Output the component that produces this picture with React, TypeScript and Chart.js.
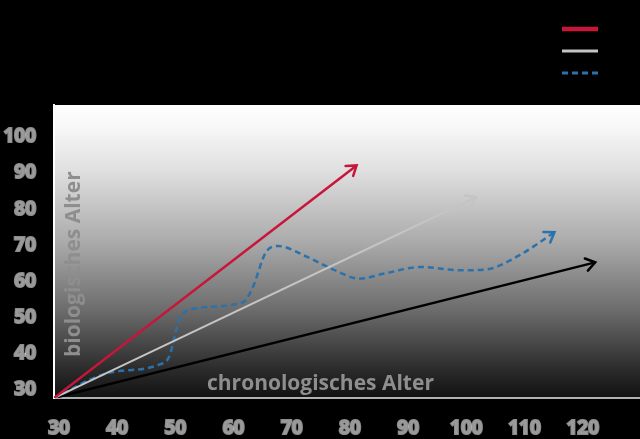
import React, { useEffect, useRef } from 'react';
import { Chart, registerables } from 'chart.js';

Chart.register(...registerables);

// tick labels
const xTicks = [30, 40, 50, 60, 70, 80, 90, 100, 110, 120];
const yTicks = [30, 40, 50, 60, 70, 80, 90, 100];

const xTitle = 'chronologisches Alter';
const yTitle = 'biologisches Alter';

const seriesLabels = ['beschleunigte Alterung', 'durchschnittliche Alterung', 'individueller Verlauf', 'verlangsamte Alterung'];

// straight lines: start and end (x = chronologisches, y = biologisches Alter)
const redX = [30, 82];
const redY = [30, 94.3];
const grayX = [30, 102.5];
const grayY = [30, 85.5];
const blackX = [30, 123];
const blackY = [30, 67.5];

// dashed individual curve
const blueX = [30, 39, 48, 49.8, 51.5, 53.5, 62.5, 64, 66.5, 68.5, 73.5, 78, 82.5, 87, 93, 100, 104.5, 110, 116];
const blueY = [30, 36.8, 39.2, 41.5, 51.5, 54.5, 56.5, 60, 70.5, 72, 69, 65.5, 63, 64.5, 66.2, 65.3, 65.6, 69.5, 75.8];

const colors = {
    red: '#c8163a',
    gray: '#c4c4c4',
    blue: '#2a72ad',
    black: '#000000',
    tick: '#9a9a9a',
    title: '#8e8e8e',
};

const zip = (xs: number[], ys: number[]) => xs.map((x, i) => ({ x, y: ys[i] }));

const backgroundPlugin = {
    id: 'bgGradient',
    beforeDraw(chart: any) {
        const { ctx, chartArea, width, height } = chart;
        ctx.save();
        ctx.fillStyle = '#000';
        ctx.fillRect(0, 0, width, height);
        const g = ctx.createLinearGradient(0, chartArea.top, 0, chartArea.bottom);
        g.addColorStop(0, '#ffffff');
        g.addColorStop(0.07, '#f8f8f8');
        g.addColorStop(0.22, '#e0e0e0');
        g.addColorStop(0.47, '#aaaaaa');
        g.addColorStop(0.7, '#6c6c6c');
        g.addColorStop(0.9, '#2c2c2c');
        g.addColorStop(1, '#111111');
        ctx.fillStyle = g;
        ctx.fillRect(chartArea.left, chartArea.top, chartArea.right - chartArea.left, chartArea.bottom - chartArea.top);
        ctx.restore();
    },
};

const titlesPlugin = {
    id: 'innerTitles',
    beforeDatasetsDraw(chart: any) {
        const { ctx, chartArea } = chart;
        ctx.save();
        ctx.fillStyle = colors.title;
        ctx.font = 'bold 21px "Open Sans"';
        ctx.textBaseline = 'alphabetic';
        ctx.textAlign = 'left';
        ctx.fillText(xTitle, 207, chartArea.bottom - 8);
        ctx.translate(chartArea.left + 26, 357);
        ctx.rotate(-Math.PI / 2);
        ctx.fillText(yTitle, 0, 0);
        ctx.restore();
    },
};

const arrowPlugin = {
    id: 'arrowHeads',
    afterDatasetsDraw(chart: any) {
        const { ctx } = chart;
        chart.data.datasets.forEach((ds: any, i: number) => {
            const pts = chart.getDatasetMeta(i).data;
            if (pts.length < 2) return;
            const a = pts[pts.length - 2];
            const b = pts[pts.length - 1];
            const ang = Math.atan2(b.y - a.y, b.x - a.x);
            const len = 11;
            ctx.save();
            ctx.strokeStyle = ds.borderColor;
            ctx.lineWidth = 2.5;
            ctx.lineCap = 'round';
            ctx.lineJoin = 'miter';
            ctx.beginPath();
            ctx.moveTo(b.x - len * Math.cos(ang - 0.6), b.y - len * Math.sin(ang - 0.6));
            ctx.lineTo(b.x, b.y);
            ctx.lineTo(b.x - len * Math.cos(ang + 0.6), b.y - len * Math.sin(ang + 0.6));
            ctx.stroke();
            ctx.restore();
        });
    },
};

const legendPlugin = {
    id: 'lineLegend',
    afterDraw(chart: any) {
        const { ctx } = chart;
        const rows = [29, 51, 73, 95];
        chart.data.datasets.forEach((ds: any, i: number) => {
            const y = rows[i];
            ctx.save();
            ctx.strokeStyle = ds.borderColor;
            ctx.lineWidth = i === 0 ? 4.5 : 3;
            ctx.setLineDash(ds.borderDash || []);
            ctx.beginPath();
            ctx.moveTo(562, y);
            ctx.lineTo(598, y);
            ctx.stroke();
            ctx.setLineDash([]);
            ctx.fillStyle = '#000';
            ctx.font = '13px "Open Sans"';
            ctx.textAlign = 'right';
            ctx.textBaseline = 'middle';
            ctx.fillText(ds.label, 552, y);
            ctx.restore();
        });
    },
};

const App: React.FC = () => {
    const canvasRef = useRef<HTMLCanvasElement>(null);

    useEffect(() => {
        document.body.style.margin = '0';
        document.body.style.background = '#000';
        if (!canvasRef.current) return;

        const tickFont = { family: '"Open Sans"', size: 19, weight: 'bold' as const };

        const chart = new Chart(canvasRef.current, {
            type: 'line',
            data: {
                datasets: [
                    {
                        label: seriesLabels[0],
                        data: zip(redX, redY),
                        borderColor: colors.red,
                        borderWidth: 2.5,
                        pointRadius: 0,
                    },
                    {
                        label: seriesLabels[1],
                        data: zip(grayX, grayY),
                        borderColor: colors.gray,
                        borderWidth: 2,
                        pointRadius: 0,
                    },
                    {
                        label: seriesLabels[2],
                        data: zip(blueX, blueY),
                        borderColor: colors.blue,
                        borderWidth: 2.5,
                        borderDash: [6, 4],
                        pointRadius: 0,
                        cubicInterpolationMode: 'monotone',
                    },
                    {
                        label: seriesLabels[3],
                        data: zip(blackX, blackY),
                        borderColor: colors.black,
                        borderWidth: 2.5,
                        pointRadius: 0,
                    },
                ],
            },
            options: {
                animation: false,
                responsive: true,
                maintainAspectRatio: false,
                layout: { padding: { top: 105, right: 0, bottom: 0, left: 0 } },
                plugins: {
                    legend: { display: false },
                    tooltip: { enabled: false },
                },
                scales: {
                    x: {
                        type: 'linear',
                        min: 30,
                        max: 130.7,
                        grid: { display: false },
                        border: { display: true, color: '#b0b0b0', width: 2 },
                        afterBuildTicks: (scale: any) => {
                            scale.ticks = xTicks.map((v) => ({ value: v }));
                        },
                        afterFit: (scale: any) => {
                            scale.height = 41;
                        },
                        ticks: {
                            color: colors.tick,
                            font: tickFont,
                            padding: 11,
                            labelOffset: 5,
                            maxRotation: 0,
                            textStrokeColor: 'rgba(255,255,255,0.55)',
                            textStrokeWidth: 2,
                        },
                    },
                    y: {
                        type: 'linear',
                        min: 30,
                        max: 111,
                        grid: { display: false },
                        border: { display: true, color: '#ffffff', width: 2 },
                        afterBuildTicks: (scale: any) => {
                            scale.ticks = yTicks.map((v) => ({ value: v }));
                        },
                        afterFit: (scale: any) => {
                            scale.width = 54;
                        },
                        ticks: {
                            color: colors.tick,
                            font: tickFont,
                            padding: 10,
                            labelOffset: -8,
                            textStrokeColor: 'rgba(255,255,255,0.55)',
                            textStrokeWidth: 2,
                        },
                    },
                },
            },
            plugins: [backgroundPlugin, titlesPlugin, arrowPlugin, legendPlugin],
        });

        return () => chart.destroy();
    }, []);

    return (
        <div style={{ position: 'relative', width: 640, height: 439, background: '#000' }}>
            <canvas ref={canvasRef}></canvas>
        </div>
    );
};

export default App;
